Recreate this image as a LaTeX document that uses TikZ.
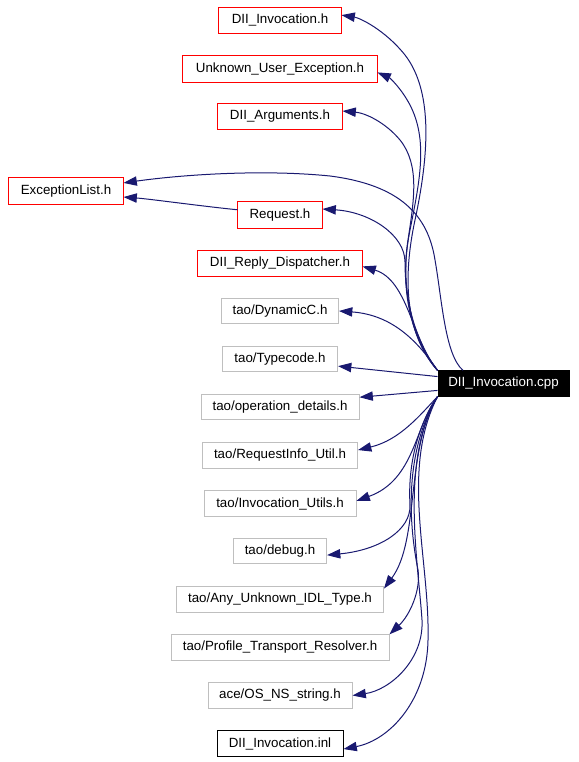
\documentclass[tikz,border=0pt]{standalone}
\usepackage{fontspec}
\setmainfont{Liberation Sans}
\usetikzlibrary{arrows.meta}
\definecolor{edgeblue}{RGB}{25,25,112}
\definecolor{boxgrey}{RGB}{191,191,191}
\definecolor{boxred}{RGB}{255,0,0}

\begin{document}
\begin{tikzpicture}[x=0.75pt,y=-0.75pt,
    file/.style={line width=0.75pt, minimum height=19pt, inner sep=0pt, font=\fontsize{10}{12}\selectfont},
    redfile/.style={file},
    greyfile/.style={file, draw=boxgrey},
    blackfile/.style={file, draw=black},
    dep/.style={draw=edgeblue, line width=0.75pt, -{Triangle[length=10pt,width=7pt]}}]
    \useasboundingbox (0,0) rectangle (578,762);
    % files
    \node[redfile, minimum width=91.5pt] (dinvh) at (280,20.5) {DII\_Invocation.h};
    \node[redfile, minimum width=145.5pt] (unk) at (280,69) {Unknown\_User\_Exception.h};
    \node[redfile, minimum width=93pt] (dargs) at (280,116.5) {DII\_Arguments.h};
    \node[redfile, minimum width=85.5pt] (exl) at (66,191) {ExceptionList.h};
    \node[redfile, minimum width=63pt] (req) at (280,215) {Request.h};
    \node[redfile, minimum width=123pt] (disp) at (280,263.5) {DII\_Reply\_Dispatcher.h};
    \node[greyfile, minimum width=87.75pt] (dync) at (280,311) {tao/DynamicC.h};
    \node[greyfile, minimum width=86.25pt] (tcode) at (280,359) {tao/Typecode.h};
    \node[blackfile, fill=black, text=white, minimum width=98.25pt] (cpp) at (503.5,383.5) {DII\_Invocation.cpp};
    \node[greyfile, minimum width=118.5pt] (opdet) at (280,407) {tao/operation\_details.h};
    \node[greyfile, minimum width=116.25pt] (riu) at (280,455.5) {tao/RequestInfo\_Util.h};
    \node[greyfile, minimum width=114pt] (invu) at (280,503.5) {tao/Invocation\_Utils.h};
    \node[greyfile, minimum width=69.75pt] (dbg) at (280,551) {tao/debug.h};
    \node[greyfile, minimum width=155.25pt] (anyu) at (280,599.5) {tao/Any\_Unknown\_IDL\_Type.h};
    \node[greyfile, minimum width=163.5pt] (ptr) at (280,647.5) {tao/Profile\_Transport\_Resolver.h};
    \node[greyfile, minimum width=108pt] (osns) at (280,695.5) {ace/OS\_NS\_string.h};
    \node[blackfile, minimum width=94.5pt] (dinvl) at (280,743.5) {DII\_Invocation.inl};
    % red frames of the files that are not found
    \foreach \f in {dinvh,unk,dargs,exl,req,disp}
        \draw[boxred, line width=0.75pt] (\f.north west) rectangle (\f.south east);
    % includes, upper half
    \draw[dep] (cpp.north west) .. controls (410,340) and (400,290) .. (415,220)
        .. controls (430,150) and (432,90) .. (405,55)
        .. controls (385,30) and (360,18) .. (dinvh.5);
    \draw[dep] (cpp.north west) .. controls (412,340) and (398,290) .. (410,230)
        .. controls (420,180) and (428,140) .. (410,105)
        .. controls (401,88) and (390,78) .. (unk.-2);
    \draw[dep] (cpp.north west) .. controls (414,340) and (400,290) .. (408,240)
        .. controls (414,200) and (420,165) .. (400,140)
        .. controls (385,122) and (365,113) .. (dargs.5);
    \draw[dep] (cpp.162) .. controls (445,355) and (442,300) .. (435,260)
        .. controls (428,215) and (400,185) .. (330,176)
        .. controls (260,169) and (180,175) .. (exl.8);
    \draw[dep] (req.173) .. controls (200,206) and (150,199) .. (exl.-6);
    \draw[dep] (cpp.north west) .. controls (415,345) and (405,300) .. (405,262)
        .. controls (405,235) and (370,212) .. (req.8);
    \draw[dep] (cpp.north west) .. controls (412,340) and (408,280) .. (disp.-2);
    \draw[dep] (cpp.north west) .. controls (420,345) and (395,315) .. (dync.east);
    \draw[dep] (cpp.174) -- (tcode.-7);
    \draw[dep] (cpp.186) -- (opdet.7);
    % includes, lower half
    \draw[dep] (cpp.south west) .. controls (420,415) and (400,440) .. (riu.4);
    \draw[dep] (cpp.south west) .. controls (415,425) and (415,480) .. (invu.2);
    \draw[dep] (cpp.south west) .. controls (415,430) and (408,470) .. (410,505)
        .. controls (411,530) and (380,550) .. (dbg.-5);
    \draw[dep] (cpp.south west) .. controls (405,450) and (420,540) .. (anyu.6);
    \draw[dep] (cpp.south west) .. controls (405,450) and (408,520) .. (418,570)
        .. controls (421,590) and (410,615) .. (ptr.north east);
    \draw[dep] (cpp.south west) .. controls (400,460) and (418,560) .. (422,620)
        .. controls (424,660) and (390,690) .. (osns.east);
    \draw[dep] (cpp.south west) .. controls (400,470) and (430,560) .. (428,640)
        .. controls (427,700) and (390,740) .. (dinvl.-5);
\end{tikzpicture}
\end{document}
